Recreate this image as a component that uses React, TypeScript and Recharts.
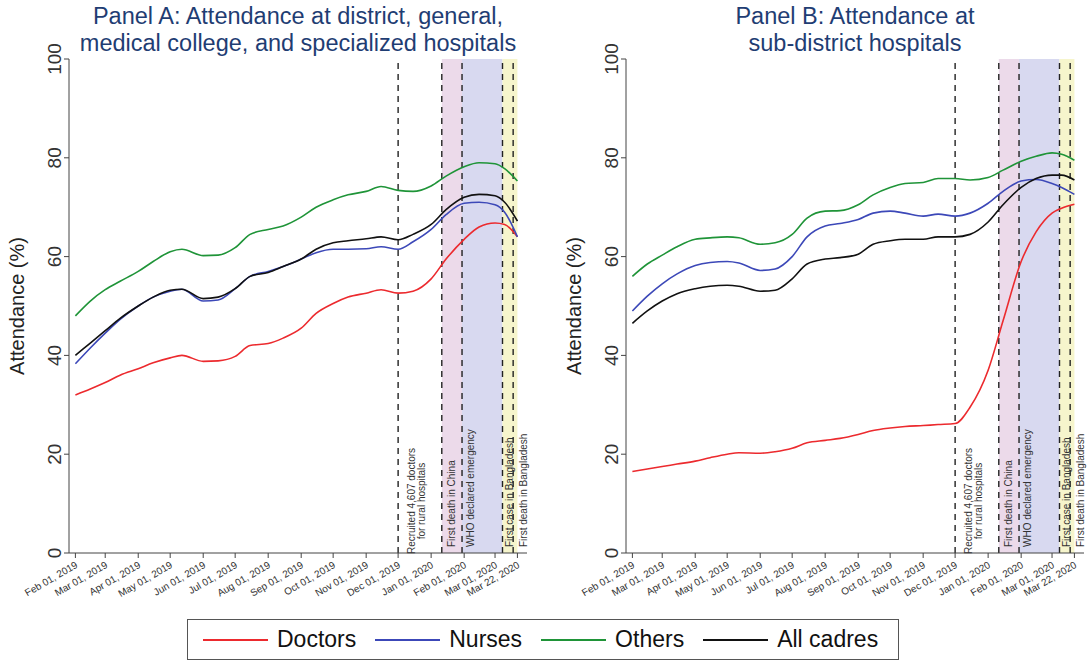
import React from "react";
import { LineChart, Line, XAxis, YAxis, ReferenceArea, ReferenceLine } from "recharts";

// sample dates for the smoothed curves
const dates = [
  "2019-02-01", "2019-02-15", "2019-03-01", "2019-03-15", "2019-04-01", "2019-04-15",
  "2019-05-01", "2019-05-12", "2019-06-01", "2019-06-15", "2019-07-01", "2019-07-15",
  "2019-08-01", "2019-08-15", "2019-09-01", "2019-09-15", "2019-10-01", "2019-10-15",
  "2019-11-01", "2019-11-15", "2019-12-01", "2019-12-15", "2020-01-01", "2020-01-15",
  "2020-02-01", "2020-02-15", "2020-03-01", "2020-03-10", "2020-03-22",
];

// Panel A
const aDoctors = [32, 33.2, 34.5, 36, 37.3, 38.5, 39.5, 40, 38.8, 38.9, 39.8, 42, 42.4, 43.5, 45.5, 48.5, 50.5, 51.8, 52.6, 53.3, 52.6, 53, 55.5, 59.5, 63.5, 66, 66.8, 66.5, 64];
const aNurses = [38.3, 41.5, 44.5, 47.3, 50, 51.8, 53, 53.4, 51, 51.2, 53.5, 56, 57, 58, 59.5, 60.8, 61.5, 61.5, 61.6, 62, 61.5, 63, 65.5, 68.5, 70.8, 71, 70.5, 69, 64];
const aOthers = [48, 51, 53.3, 55, 57, 59, 61, 61.5, 60.2, 60.3, 61.8, 64.5, 65.5, 66.2, 68, 70, 71.5, 72.5, 73.2, 74.2, 73.4, 73.2, 74.3, 76.3, 78.2, 79, 78.8, 77.8, 75.3];
const aAll = [40, 42.5, 45, 47.5, 50, 51.8, 53.2, 53.4, 51.5, 51.8, 53.5, 56, 56.8, 58, 59.5, 61.5, 62.8, 63.2, 63.6, 64, 63.4, 64.5, 66.5, 69.5, 72, 72.6, 72.3, 71, 67.2];

// Panel B
const bDoctors = [16.5, 17, 17.5, 18, 18.6, 19.3, 20, 20.3, 20.2, 20.5, 21.2, 22.3, 22.8, 23.2, 24, 24.8, 25.3, 25.6, 25.8, 26, 26.2, 29.5, 37, 47, 59, 65, 68.8, 69.8, 70.6];
const bNurses = [49, 52, 54.5, 56.5, 58.2, 58.8, 59, 58.7, 57.2, 57.5, 60, 64, 66.2, 66.7, 67.5, 68.8, 69.2, 68.8, 68.2, 68.6, 68.2, 68.8, 70.8, 73.2, 75.3, 75.6, 74.8, 74, 72.6];
const bOthers = [56, 58.5, 60.3, 62, 63.5, 63.8, 64, 63.8, 62.5, 62.8, 64.5, 67.8, 69.2, 69.3, 70.5, 72.5, 74, 74.8, 75, 75.8, 75.8, 75.5, 76, 77.5, 79.3, 80.3, 81, 80.7, 79.5];
const bAll = [46.5, 49, 51, 52.5, 53.5, 54, 54.2, 54, 53, 53.2, 55.5, 58.5, 59.5, 59.8, 60.5, 62.5, 63.2, 63.5, 63.5, 64, 64, 64.5, 67, 70.5, 74, 75.8, 76.5, 76.5, 75.5];

const tickDates = [
  "2019-02-01", "2019-03-01", "2019-04-01", "2019-05-01", "2019-06-01", "2019-07-01",
  "2019-08-01", "2019-09-01", "2019-10-01", "2019-11-01", "2019-12-01", "2020-01-01",
  "2020-02-01", "2020-03-01", "2020-03-22",
];
const tickLabels = [
  "Feb 01, 2019", "Mar 01, 2019", "Apr 01, 2019", "May 01, 2019", "Jun 01, 2019", "Jul 01, 2019",
  "Aug 01, 2019", "Sep 01, 2019", "Oct 01, 2019", "Nov 01, 2019", "Dec 01, 2019", "Jan 01, 2020",
  "Feb 01, 2020", "Mar 01, 2020", "Mar 22, 2020",
];

const eventDates = ["2019-12-01", "2020-01-11", "2020-01-30", "2020-03-08", "2020-03-18"];
const eventLabels = [
  ["Recruited 4,607 doctors", "for rural hospitals"],
  ["First death in China"],
  ["WHO declared emergency"],
  ["First case in Bangladesh"],
  ["First death in Bangladesh"],
];
const bandStarts = ["2020-01-11", "2020-01-30", "2020-03-08"];
const bandEnds = ["2020-01-30", "2020-03-08", "2020-03-22"];

const seriesNames = ["Doctors", "Nurses", "Others", "All cadres"];
const seriesKeys = ["doctors", "nurses", "others", "all"];
const yTicks = [0, 20, 40, 60, 80, 100];

const day = (d: string) => Math.round((Date.parse(d) - Date.parse("2019-02-01")) / 864e5);
const tickDays = tickDates.map(day);

const colors = ["#ec2a2e", "#3c48b8", "#1f9438", "#111111"];
const bandColors = ["#ecdaea", "#d8d9f0", "#f6f5cc"];
const font = "'Liberation Sans', Arial, sans-serif";
const textColor = "#333";
const labelDx = [[17, 27], [13], [12], [10], [14]];

function XTick(props: any) {
  const { x, y, payload } = props;
  const i = tickDays.indexOf(payload.value);
  const ax = x + 3;
  const ay = y + 7;
  return (
    <text x={ax} y={ay} textAnchor="end" fontSize={10} fill={textColor} fontFamily={font}
      transform={`rotate(-30 ${ax} ${ay})`}>
      {tickLabels[i]}
    </text>
  );
}

function YTick(props: any) {
  const { x, y, payload } = props;
  return (
    <text x={x} y={y} textAnchor="middle" fontSize={19} fill={textColor} fontFamily={font}
      transform={`rotate(-90 ${x} ${y})`}>
      {payload.value}
    </text>
  );
}

function eventLabel(idx: number) {
  return (props: any) => {
    const vb = props.viewBox;
    const bottom = vb.y + vb.height;
    const lines = eventLabels[idx];
    return (
      <g>
        {lines.map((s, j) => {
          const tx = vb.x + labelDx[idx][j];
          const ty = lines.length > 1 ? bottom - 52 : bottom - 6;
          return (
            <text key={j} x={tx} y={ty} fontSize={10} fill={textColor} fontFamily={font}
              textAnchor={lines.length > 1 ? "middle" : "start"}
              transform={`rotate(-90 ${tx} ${ty})`}>
              {s}
            </text>
          );
        })}
      </g>
    );
  };
}

function Panel({ title, series, left }: { title: string[]; series: number[][]; left: number }) {
  const rows = dates.map((d, i) => ({
    t: day(d),
    doctors: series[0][i],
    nurses: series[1][i],
    others: series[2][i],
    all: series[3][i],
  }));
  return (
    <div style={{ position: "absolute", left, top: 0, width: 557, height: 620 }}>
      <div style={{
        position: "absolute", left: 19, width: 558, top: 3, textAlign: "center",
        fontFamily: font, fontSize: 23.5, lineHeight: "27px", color: "#1f3d73", whiteSpace: "nowrap",
      }}>
        {title.map((s, i) => <div key={i}>{s}</div>)}
      </div>
      <LineChart width={557} height={620} data={rows} margin={{ top: 59, right: 30, left: 0, bottom: 0 }}>
        {bandStarts.map((s, i) => (
          <ReferenceArea key={"b" + i} x1={day(s)} x2={day(bandEnds[i])} y1={0} y2={100}
            fill={bandColors[i]} fillOpacity={1} stroke="none" />
        ))}
        <XAxis type="number" dataKey="t" domain={[-6, 424]} ticks={tickDays} interval={0}
          allowDataOverflow height={67} tick={<XTick />} tickSize={5} tickMargin={2}
          stroke="#444" tickLine={{ stroke: "#444" }} />
        <YAxis type="number" domain={[0, 100]} ticks={yTicks} width={69} tick={<YTick />}
          tickSize={5} tickMargin={3} stroke="#444" tickLine={{ stroke: "#444" }}
          label={() => (
            <text x={24} y={306} textAnchor="middle" fontSize={20} fill="#222" fontFamily={font}
              transform="rotate(-90 24 306)">
              Attendance (%)
            </text>
          )} />
        {eventDates.map((d, i) => (
          <ReferenceLine key={"e" + i} x={day(d)} stroke="#222" strokeWidth={1.4}
            strokeDasharray="6 5" label={eventLabel(i)} />
        ))}
        {seriesKeys.map((k, i) => (
          <Line key={k} type="monotone" dataKey={k} name={seriesNames[i]} stroke={colors[i]}
            strokeWidth={1.6} dot={false} isAnimationActive={false} />
        ))}
      </LineChart>
    </div>
  );
}

function Legend() {
  return (
    <div style={{
      position: "absolute", left: 187, top: 619, width: 712, height: 41,
      border: "1px solid #555", display: "flex", alignItems: "center",
      fontFamily: font, fontSize: 23, color: "#111", paddingLeft: 15, boxSizing: "border-box",
      whiteSpace: "nowrap",
    }}>
      {seriesNames.map((n, i) => (
        <div key={n} style={{ display: "flex", alignItems: "center", marginRight: 19, flexShrink: 0 }}>
          <svg width={65} height={4} style={{ marginRight: 9 }}>
            <line x1={0} y1={2} x2={65} y2={2} stroke={colors[i]} strokeWidth={2} />
          </svg>
          <span>{n}</span>
        </div>
      ))}
    </div>
  );
}

export default function App() {
  return (
    <div style={{ position: "absolute", left: 0, top: 0, width: 1088, height: 663, background: "#fff" }}>
      <Panel
        left={0}
        title={["Panel A: Attendance at district, general,", "medical college, and specialized hospitals"]}
        series={[aDoctors, aNurses, aOthers, aAll]}
      />
      <Panel
        left={557}
        title={["Panel B: Attendance at", "sub-district hospitals"]}
        series={[bDoctors, bNurses, bOthers, bAll]}
      />
      <Legend />
    </div>
  );
}
